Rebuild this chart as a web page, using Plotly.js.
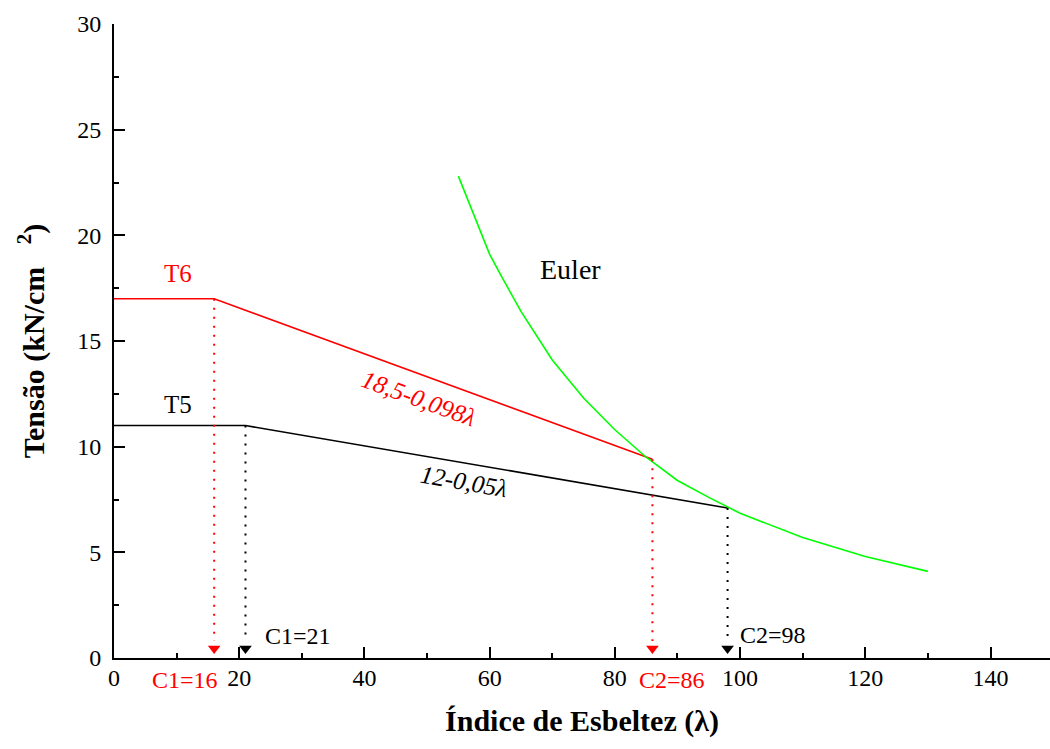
<!DOCTYPE html>
<html>
<head>
<meta charset="utf-8">
<script src="https://cdn.plot.ly/plotly-3.0.1.min.js"></script>
<style>html,body{margin:0;padding:0;background:#fff;}#chart{width:1050px;height:749px;}</style>
</head>
<body>
<div id="chart"></div>
<script>
// T6 curve (red)
const t6X = [0, 16, 86];
const t6Y = [17, 17, 9.4];
// T5 curve (black)
const t5X = [0, 21, 98];
const t5Y = [11, 11, 7.1];
// Euler curve (green)
const eulerX = [55, 57, 60, 62, 65, 70, 75, 80, 85, 90, 95, 100, 110, 120, 130];
const eulerY = [22.8, 21.3, 19.1, 18.0, 16.4, 14.1, 12.3, 10.8, 9.5, 8.4, 7.6, 6.85, 5.7, 4.8, 4.1];
// Limits (C1, C2)
const limRedX = [16, 86];
const limRedTop = [17, 9.4];
const limBlackX = [21, 98];
const limBlackTop = [11, 7.1];
const arrowY = 0.45;
const dotBottom = 0.8;
const limRedLabels = ["C1=16", "C2=86"];
const limBlackLabels = ["C1=21", "C2=98"];

const serif = "Liberation Serif";

function dotted(x, top, color) {
  return {
    x: [x, x], y: [top, dotBottom], mode: 'lines', type: 'scatter',
    line: {color: color, width: 2, dash: '2px,7px'}, hoverinfo: 'skip', showlegend: false
  };
}

const traces = [
  {x: t6X, y: t6Y, mode: 'lines', type: 'scatter', line: {color: '#ff0000', width: 1.6}, showlegend: false},
  {x: t5X, y: t5Y, mode: 'lines', type: 'scatter', line: {color: '#000000', width: 1.6}, showlegend: false},
  {x: eulerX, y: eulerY, mode: 'lines', type: 'scatter', line: {color: '#00ff00', width: 1.6}, showlegend: false},
  dotted(limRedX[0], limRedTop[0], '#ff0000'),
  dotted(limRedX[1], limRedTop[1], '#ff0000'),
  dotted(limBlackX[0], limBlackTop[0], '#000000'),
  dotted(limBlackX[1], limBlackTop[1], '#000000'),
  {x: limRedX, y: [arrowY, arrowY], mode: 'markers', type: 'scatter', cliponaxis: false,
   marker: {symbol: 'triangle-down', size: 11, color: '#ff0000'}, showlegend: false},
  {x: limBlackX, y: [arrowY, arrowY], mode: 'markers', type: 'scatter', cliponaxis: false,
   marker: {symbol: 'triangle-down', size: 11, color: '#000000'}, showlegend: false}
];

const annFont = (c, s) => ({family: serif, size: s, color: c});
const belowAxis = -1.04 / 30;
const annotations = [
  {x: 10.2, y: 18.2, text: 'T6', showarrow: false, font: annFont('#ff0000', 25)},
  {x: 10.2, y: 12.0, text: 'T5', showarrow: false, font: annFont('#000000', 25)},
  {x: 72.9, y: 18.4, text: 'Euler', showarrow: false, font: annFont('#000000', 28)},
  {x: 48.7, y: 12.26, text: '<i>18,5-0,098λ</i>', showarrow: false, textangle: 20, font: annFont('#ff0000', 25)},
  {x: 55.9, y: 8.35, text: '<i>12-0,05λ</i>', showarrow: false, textangle: 10, font: annFont('#000000', 25)},
  {x: limBlackX[0] + 8.4, y: 1.04, text: limBlackLabels[0], showarrow: false, font: annFont('#000000', 24)},
  {x: limBlackX[1] + 7.2, y: 1.08, text: limBlackLabels[1], showarrow: false, font: annFont('#000000', 24)},
  {x: limRedX[0] - 4.7, xref: 'x', yref: 'paper', y: belowAxis, yanchor: 'middle', text: limRedLabels[0], showarrow: false, font: annFont('#ff0000', 24)},
  {x: limRedX[1] + 3.2, xref: 'x', yref: 'paper', y: belowAxis, yanchor: 'middle', text: limRedLabels[1], showarrow: false, font: annFont('#ff0000', 24)}
];

const layout = {
  width: 1050, height: 749,
  margin: {l: 114, r: 0, t: 24, b: 91, pad: 0},
  paper_bgcolor: '#ffffff', plot_bgcolor: '#ffffff',
  showlegend: false,
  font: {family: serif, color: '#000000'},
  xaxis: {
    range: [0, 149.5], showgrid: false, zeroline: false,
    showline: true, linecolor: '#000', linewidth: 2,
    ticks: 'inside', ticklen: 11, tickwidth: 2, tickcolor: '#000',
    tickvals: [0, 20, 40, 60, 80, 100, 120, 140],
    ticktext: ['0', '20', '40', '60', '80', '100', '120', '140'],
    tickfont: {family: serif, size: 24, color: '#000'},
    ticklabelstandoff: -3,
    minor: {ticks: 'inside', ticklen: 5, tickwidth: 2, tickcolor: '#000', tickvals: [10, 30, 50, 70, 90, 110, 130, 150]},
    title: {text: '<b>Índice de Esbeltez (λ)</b>', font: {family: serif, size: 30, color: '#000'}, standoff: 20}
  },
  yaxis: {
    range: [0, 30], showgrid: false, zeroline: false,
    showline: true, linecolor: '#000', linewidth: 2,
    ticks: 'inside', ticklen: 11, tickwidth: 2, tickcolor: '#000',
    tickvals: [0, 5, 10, 15, 20, 25, 30],
    ticktext: ['0', '5', '10', '15', '20', '25', '30'],
    tickfont: {family: serif, size: 24, color: '#000'},
    ticklabelstandoff: 6,
    minor: {ticks: 'inside', ticklen: 5, tickwidth: 2, tickcolor: '#000', tickvals: [2.5, 7.5, 12.5, 17.5, 22.5, 27.5]},
    title: {text: '<b>Tensão (kN/cm   <sup>2</sup>)</b>', font: {family: serif, size: 30, color: '#000'}, standoff: 24}
  },
  annotations: annotations
};

Plotly.newPlot('chart', traces, layout, {displayModeBar: false, staticPlot: true});
</script>
</body>
</html>
